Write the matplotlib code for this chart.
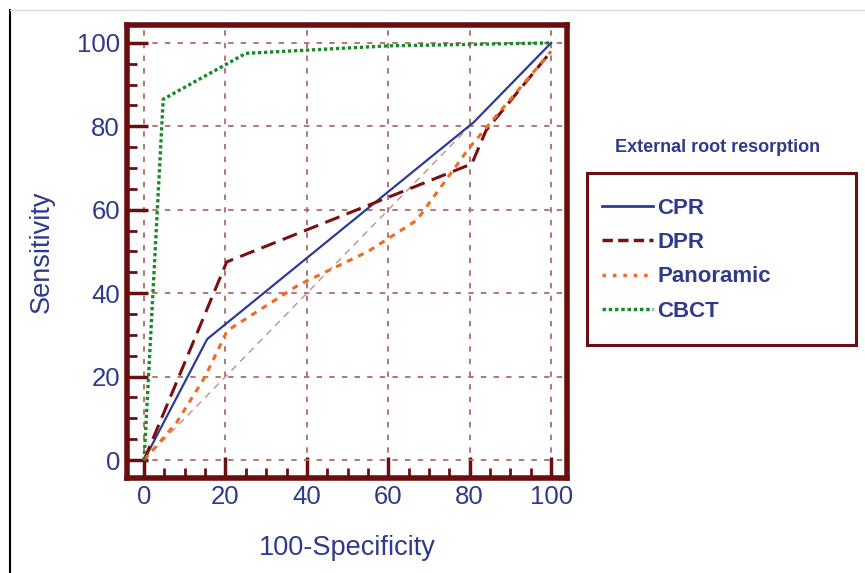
import matplotlib.pyplot as plt
from matplotlib.lines import Line2D
from matplotlib.patches import Rectangle
from matplotlib.ticker import MultipleLocator

# ROC curve points
cpr_x = [0, 15.5, 81, 100]
cpr_y = [0, 29, 81, 100]
dpr_x = [0, 20.3, 80.5, 84, 100]
dpr_y = [0, 47.5, 71, 79, 98]
pan_x = [0, 8, 15, 20.4, 38, 55, 67, 80, 100]
pan_y = [0, 9, 20, 31, 42, 50, 57.5, 75, 98]
cbct_x = [0, 4.7, 25, 60, 100]
cbct_y = [0, 86.5, 97.5, 99.3, 100]
ticks = [0, 20, 40, 60, 80, 100]
labels = ['CPR', 'DPR', 'Panoramic', 'CBCT']

navy = '#2e3a8c'
maroon = '#6a0e10'
gridc = '#b06a6a'

plt.rcParams['font.family'] = ['Liberation Sans', 'DejaVu Sans']

fig = plt.figure(figsize=(8.65, 5.73), dpi=100)
ax = fig.add_axes([0.1468, 0.1658, 0.5087, 0.7906])

ax.plot([0, 100], [0, 100], color='#c09090', lw=1, ls=(0, (5, 4)), zorder=2)
ax.plot(cpr_x, cpr_y, color='#2d3a9a', lw=1.6, zorder=4)
ax.plot(dpr_x, dpr_y, color='#7a1010', lw=2.2, ls=(0, (5, 2.5)), zorder=4)
ax.plot(pan_x, pan_y, color='#f26a22', lw=2.2, ls=(0, (2, 2)), zorder=4)
ax.plot(cbct_x, cbct_y, color='#1a8a2a', lw=2.4, ls=(0, (1, 0.8)), zorder=5)

ax.set_xlim(-4.2, 103.9)
ax.set_ylim(-4.3, 104.3)
ax.set_xticks(ticks)
ax.set_yticks(ticks)
ax.xaxis.set_minor_locator(MultipleLocator(5))
ax.yaxis.set_minor_locator(MultipleLocator(5))
ax.grid(True, which='major', color=gridc, ls=(0, (3, 4)), lw=1.3)
ax.tick_params(which='major', direction='in', length=15, width=2.5, color=maroon,
               labelsize=18.5, labelcolor=navy, pad=5)
ax.tick_params(which='minor', direction='in', length=7, width=2, color=maroon)
ax.tick_params(top=False, right=False)
for s in ax.spines.values():
    s.set_color(maroon)
    s.set_linewidth(4)

ax.set_xlabel('100-Specificity', fontsize=19.5, color=navy, labelpad=19)
ax.set_ylabel('Sensitivity', fontsize=19.5, color=navy, labelpad=16)

# legend box drawn separately so its size matches the picture
fig.add_artist(Rectangle((0.6786, 0.398), 0.311, 0.3, transform=fig.transFigure,
                         fill=False, edgecolor=maroon, lw=2.2))
handles = [
    Line2D([], [], color='#2d3a9a', lw=2),
    Line2D([], [], color='#7a1010', lw=2.5, ls=(0, (3, 1.5))),
    Line2D([], [], color='#f26a22', lw=2.5, ls=(0, (1, 2))),
    Line2D([], [], color='#1a8a2a', lw=2.5, ls=(0, (1, 0.8))),
]
leg = fig.legend(handles, labels, loc='upper left', bbox_to_anchor=(0.696, 0.655),
                 frameon=False, handlelength=2.3, handletextpad=0.2,
                 labelspacing=0.6, borderpad=0, borderaxespad=0,
                 prop={'weight': 'bold', 'size': 16})
for t in leg.get_texts():
    t.set_color(navy)

fig.text(0.829, 0.742, 'External root resorption', ha='center', va='center',
         fontsize=13, fontweight='bold', color=navy)

# thin page border seen in the picture
fig.add_artist(Line2D([0.011, 0.011], [0, 0.983], color='black', lw=1.5))
fig.add_artist(Line2D([0.011, 1], [0.983, 0.983], color='#dddddd', lw=1))

fig.savefig('out.png', dpi=100)
